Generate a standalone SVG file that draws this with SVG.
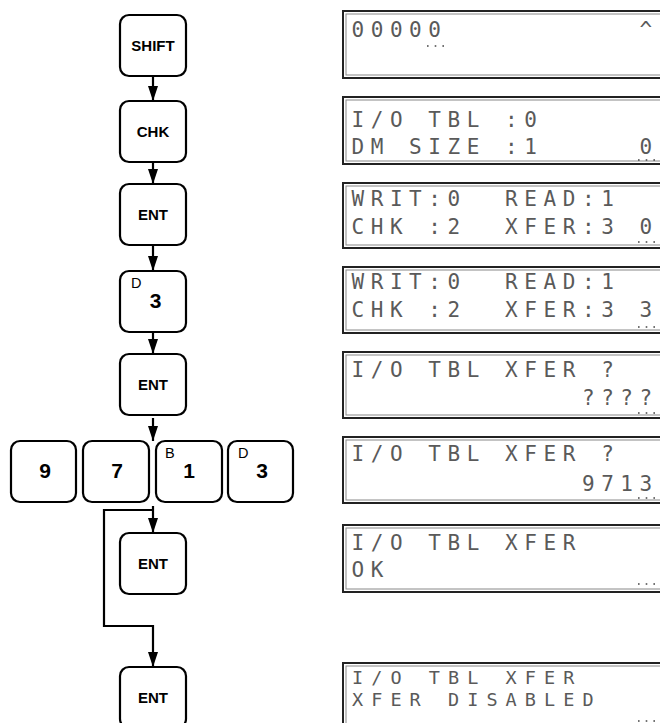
<svg xmlns="http://www.w3.org/2000/svg" width="660" height="723" viewBox="0 0 660 723">
<style>
.key rect{fill:#fff;stroke:#000;stroke-width:2.2}
.kl{font-family:"Liberation Sans",Arial,sans-serif;font-weight:bold;font-size:15px;text-anchor:middle;fill:#000}
.dg{font-family:"Liberation Sans",Arial,sans-serif;font-weight:bold;font-size:21px;text-anchor:middle;fill:#000}
.sup{font-family:"Liberation Sans",Arial,sans-serif;font-size:14.5px;fill:#000}
.con{fill:none;stroke:#000;stroke-width:2.2}
.lcd .o{fill:#fff;stroke:#222;stroke-width:2}
.lcd .i{fill:none;stroke:#888;stroke-width:1}
.lt{font-family:"DejaVu Sans Mono","Liberation Mono",monospace;font-size:21px;letter-spacing:6.56px;fill:#5a5a5a}
.lt2{font-family:"DejaVu Sans Mono","Liberation Mono",monospace;font-size:18.5px;letter-spacing:8.06px;fill:#5a5a5a}
.cur{fill:none;stroke:#444;stroke-width:1.6;stroke-dasharray:1.6 6.1}
</style>
<defs>
<marker id="ah" markerUnits="userSpaceOnUse" markerWidth="15" markerHeight="10" refX="15" refY="5" orient="auto" viewBox="0 0 15 10">
<path d="M0,0 L15,5 L0,10 z" fill="#000"/>
</marker>
</defs>

<g id="connectors">
<path class="con" d="M153,76 V101" marker-end="url(#ah)"/>
<path class="con" d="M153,162 V184" marker-end="url(#ah)"/>
<path class="con" d="M153,245 V271" marker-end="url(#ah)"/>
<path class="con" d="M153,332 V354" marker-end="url(#ah)"/>
<path class="con" d="M153,418 V441" marker-end="url(#ah)"/>
<path class="con" d="M153,506 V533" marker-end="url(#ah)"/>
<path class="con" d="M153,510 H104 V626 H153 V667" marker-end="url(#ah)"/>
</g>

<g id="key-shift" class="key"><rect x="120" y="15" width="66" height="61" rx="9"/><text class="kl" x="153" y="51">SHIFT</text></g>
<g id="key-chk" class="key"><rect x="120" y="101" width="66" height="61" rx="9"/><text class="kl" x="153" y="137">CHK</text></g>
<g id="key-ent1" class="key"><rect x="120" y="184" width="66" height="61" rx="9"/><text class="kl" x="153" y="220">ENT</text></g>
<g id="key-d3" class="key"><rect x="120" y="271" width="66" height="61" rx="9"/><text class="sup" x="131" y="288">D</text><text class="dg" x="155.5" y="308">3</text></g>
<g id="key-ent2" class="key"><rect x="120" y="354" width="66" height="61" rx="9"/><text class="kl" x="153" y="390">ENT</text></g>
<g id="key-9" class="key"><rect x="11" y="441" width="65" height="61" rx="9"/><text class="dg" x="45" y="478">9</text></g>
<g id="key-7" class="key"><rect x="83" y="441" width="66" height="61" rx="9"/><text class="dg" x="117" y="478">7</text></g>
<g id="key-b1" class="key"><rect x="156" y="441" width="66" height="61" rx="9"/><text class="sup" x="165" y="458">B</text><text class="dg" x="189" y="478">1</text></g>
<g id="key-d3b" class="key"><rect x="228" y="441" width="65" height="61" rx="9"/><text class="sup" x="238" y="458">D</text><text class="dg" x="262" y="478">3</text></g>
<g id="key-ent3" class="key"><rect x="120" y="533" width="66" height="61" rx="9"/><text class="kl" x="153" y="569">ENT</text></g>
<g id="key-ent4" class="key"><rect x="120" y="667" width="66" height="61" rx="9"/><text class="kl" x="153" y="703">ENT</text></g>

<g id="lcd1" class="lcd"><rect class="o" x="343" y="11" width="340" height="67"/><rect class="i" x="346" y="14" width="334" height="61"/>
<text class="lt" x="351.5" y="37" xml:space="preserve">00000          ^</text>
<path class="cur" d="M427,46 h17"/></g>

<g id="lcd2" class="lcd"><rect class="o" x="343" y="97" width="340" height="67"/><rect class="i" x="346" y="100" width="334" height="61"/>
<text class="lt" x="351.5" y="127" xml:space="preserve">I/O TBL :0</text>
<text class="lt" x="351.5" y="154" xml:space="preserve">DM SIZE :1     0</text>
<path class="cur" d="M638,160 h17"/></g>

<g id="lcd3" class="lcd"><rect class="o" x="343" y="183" width="340" height="65"/><rect class="i" x="346" y="186" width="334" height="59"/>
<text class="lt" x="351.5" y="206" xml:space="preserve">WRIT:0  READ:1</text>
<text class="lt" x="351.5" y="234" xml:space="preserve">CHK :2  XFER:3 0</text>
<path class="cur" d="M638,242 h17"/></g>

<g id="lcd4" class="lcd"><rect class="o" x="343" y="267" width="340" height="66"/><rect class="i" x="346" y="270" width="334" height="60"/>
<text class="lt" x="351.5" y="289" xml:space="preserve">WRIT:0  READ:1</text>
<text class="lt" x="351.5" y="317" xml:space="preserve">CHK :2  XFER:3 3</text>
<path class="cur" d="M638,327 h17"/></g>

<g id="lcd5" class="lcd"><rect class="o" x="343" y="352" width="340" height="66"/><rect class="i" x="346" y="355" width="334" height="60"/>
<text class="lt" x="351.5" y="377" xml:space="preserve">I/O TBL XFER ?</text>
<text class="lt" x="351.5" y="405" xml:space="preserve">            ????</text>
<path class="cur" d="M638,413 h17"/></g>

<g id="lcd6" class="lcd"><rect class="o" x="343" y="437" width="340" height="66"/><rect class="i" x="346" y="440" width="334" height="60"/>
<text class="lt" x="351.5" y="461" xml:space="preserve">I/O TBL XFER ?</text>
<text class="lt" x="351.5" y="491" xml:space="preserve">            9713</text>
<path class="cur" d="M638,498 h17"/></g>

<g id="lcd7" class="lcd"><rect class="o" x="343" y="525" width="340" height="67"/><rect class="i" x="346" y="528" width="334" height="61"/>
<text class="lt" x="351.5" y="550" xml:space="preserve">I/O TBL XFER</text>
<text class="lt" x="351.5" y="577" xml:space="preserve">OK</text>
<path class="cur" d="M638,584 h17"/></g>

<g id="lcd8" class="lcd"><rect class="o" x="343" y="663" width="340" height="80"/><rect class="i" x="346" y="666" width="334" height="74"/>
<text class="lt2" x="352" y="684" xml:space="preserve">I/O TBL XFER</text>
<text class="lt2" x="352" y="706" xml:space="preserve">XFER DISABLED</text>
<path class="cur" d="M638,721 h17"/></g>
</svg>
